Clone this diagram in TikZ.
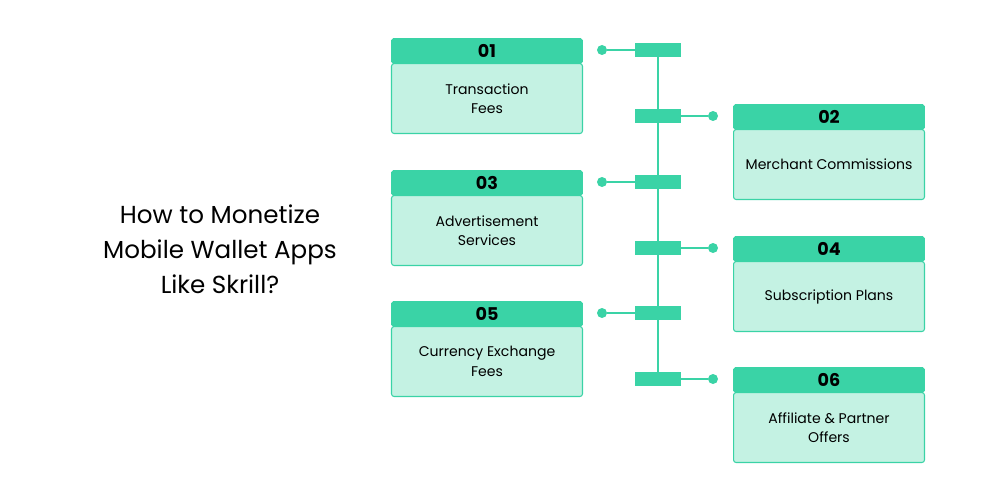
\documentclass[tikz,border=0pt]{standalone}
\usepackage{fontspec}
\setmainfont{Poppins}
\usetikzlibrary{positioning,calc}
\definecolor{mint}{HTML}{3AD3A6}
\definecolor{mintlight}{HTML}{C4F2E3}
\tikzset{
  head/.style={fill=mint, draw=mint, rounded corners=1pt, minimum width=3.82cm, minimum height=0.5cm, inner sep=0pt, font=\fontsize{10}{12}\selectfont\bfseries},
  body/.style={fill=mintlight, draw=mint, rounded corners=1.5pt, line width=0.6pt, minimum width=3.82cm, minimum height=1.4cm, inner sep=0pt, align=center, font=\fontsize{8}{11}\selectfont},
  bar/.style={fill=mint, minimum width=0.92cm, minimum height=0.28cm, inner sep=0pt},
  dot/.style={circle, fill=mint, minimum size=0.2cm, inner sep=0pt},
  link/.style={draw=mint, line width=1.3pt}
}
\begin{document}
\begin{tikzpicture}[x=0.02cm, y=-0.02cm]
        \useasboundingbox (0,0) rectangle (1000,500);

        % Title
        \node[align=center, font=\fontsize{14}{20}\selectfont] (TITLE) at (220,249) {How to Monetize\\Mobile Wallet Apps\\Like Skrill?};

        % Spine
        \draw[link] (658,50) -- (658,379);

        % Boxes, bars and dots
        \foreach \n/\x/\y/\dx/\txt in {01/487/51/602/{Transaction\\Fees},
                                        02/829/117/713/{Merchant Commissions},
                                        03/487/183/602/{Advertisement\\Services},
                                        04/829/249/713/{Subscription Plans},
                                        05/487/314/602/{Currency Exchange\\Fees},
                                        06/829/380/713/{Affiliate \& Partner\\Offers}} {
            \node[body, anchor=north] (body\n) at (\x,\y+12) {\txt};
            \node[head] (head\n) at (\x,\y) {\n};
            \node[bar] (bar\n) at (658,\y-1) {};
            \node[dot] (dot\n) at (\dx,\y-1) {};
            \draw[link] (dot\n) -- (bar\n);
        }
\end{tikzpicture}
\end{document}
